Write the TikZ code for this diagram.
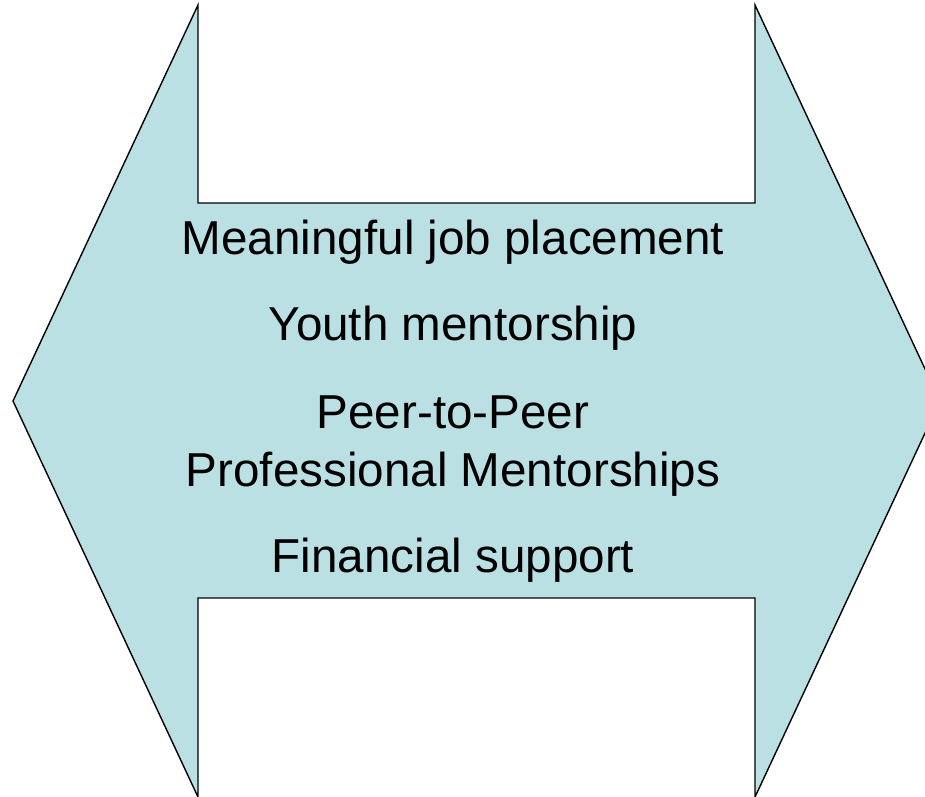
\documentclass[tikz,border=0pt]{standalone}
\usepackage{fontspec}
\setmainfont{Liberation Sans}
\definecolor{arrowfill}{HTML}{BBE0E3}
\tikzset{
  shapeline/.style={draw=black, line width=1.4pt, fill=arrowfill, line join=miter},
  label/.style={anchor=base, inner sep=0pt, font=\fontsize{47.6pt}{57pt}\selectfont, text=black}
}
\begin{document}
\begin{tikzpicture}[x=1pt,y=-1pt]
\useasboundingbox (0,0) rectangle (925,796);
\clip (0,0) rectangle (925,796);
\draw[shapeline] (13,401) -- (198,5) -- (198,203) -- (755,203) -- (755,5) -- (940,401)
  -- (755,797) -- (755,598) -- (198,598) -- (198,797) -- cycle;
\node[label] (l1) at (453,254) {Meaningful job placement};
\node[label] (l2) at (453,340) {Youth mentorship};
\node[label] (l3) at (453,428) {Peer-to-Peer};
\node[label] (l4) at (453,486) {Professional Mentorships};
\node[label] (l5) at (453,572) {Financial support};
\end{tikzpicture}
\end{document}
